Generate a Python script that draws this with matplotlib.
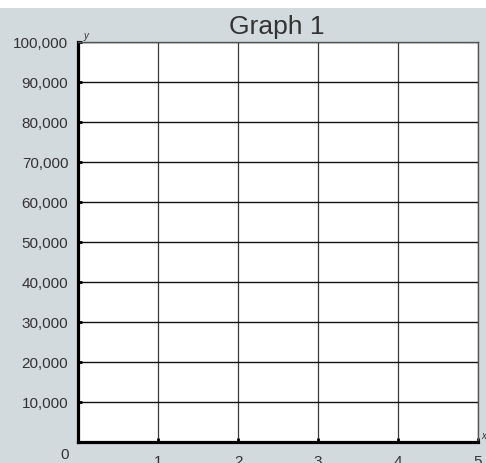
import matplotlib.pyplot as plt
from matplotlib.patches import Rectangle

# axis data
x_ticks = [1, 2, 3, 4, 5]
y_ticks = [10000, 20000, 30000, 40000, 50000, 60000, 70000, 80000, 90000, 100000]
x_max = 5
y_max = 100000
title = "Graph 1"

W, H = 486, 464
fig = plt.figure(figsize=(W / 100, H / 100), dpi=100, facecolor="#d3dadd")
plt.rcParams['font.family'] = ['Liberation Sans', 'DejaVu Sans']

# white strip on top
fig.patches.append(Rectangle((0, 1 - 9 / H), 1, 9 / H, transform=fig.transFigure,
                             facecolor="white", edgecolor="none", zorder=0))

ax = fig.add_axes([78 / W, 21 / H, 400 / W, 400 / H])
ax.set_facecolor("white")
ax.set_xlim(0, x_max)
ax.set_ylim(0, y_max)

# grid
for xv in x_ticks:
    ax.axvline(xv, color="#3a3a3a", lw=0.9, zorder=1)
for yv in y_ticks:
    ax.axhline(yv, color="#111111", lw=1.0, zorder=1)

ax.set_xticks(x_ticks)
ax.set_yticks(y_ticks)
ax.set_xticklabels([str(v) for v in x_ticks])
ax.set_yticklabels([f"{v:,}" for v in y_ticks])
ax.tick_params(axis="both", direction="in", length=3, width=2, color="black",
               labelsize=11, labelcolor="#333333")
ax.tick_params(axis="y", pad=7)
ax.tick_params(axis="x", pad=9)

for side in ["left", "bottom"]:
    ax.spines[side].set_linewidth(2.3)
    ax.spines[side].set_color("black")
for side in ["top", "right"]:
    ax.spines[side].set_linewidth(1)
    ax.spines[side].set_color("#555555")

# origin label and axis letters
ax.text(-0.033, -0.03, "0", transform=ax.transAxes, ha="center", va="center",
        fontsize=11, color="#333333")
ax.text(0.02, 1.005, "y", transform=ax.transAxes, ha="center", va="bottom",
        fontsize=7, style="italic", color="#333333")
ax.text(1.015, 0.005, "x", transform=ax.transAxes, ha="center", va="bottom",
        fontsize=7, style="italic", color="#333333")

fig.text(277 / W, 1 - 27 / H, title, ha="center", va="center",
         fontsize=19, color="#333333")

fig.savefig("out.png", dpi=100, facecolor=fig.get_facecolor())
